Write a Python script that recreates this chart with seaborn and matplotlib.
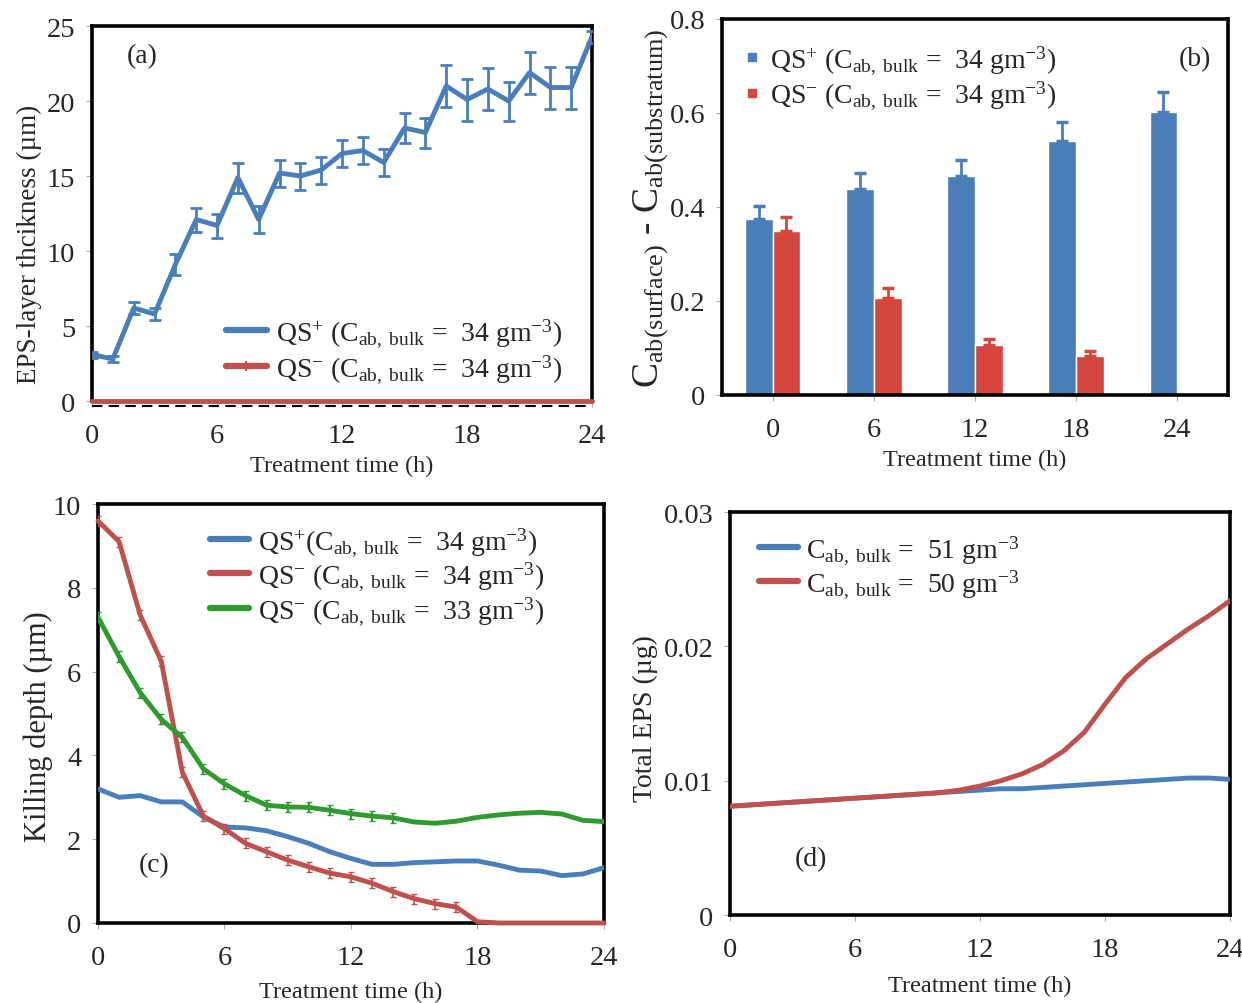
import numpy as np
import pandas as pd
import matplotlib
matplotlib.use("Agg")
import matplotlib.pyplot as plt
import seaborn as sns
from matplotlib.lines import Line2D

# ---------------- data ----------------
hours = list(range(25))

# (a) EPS-layer thickness
a_qs_plus = [3.1, 2.8, 6.2, 5.8, 9.1, 12.1, 11.7, 14.9, 12.1, 15.2, 15.0, 15.4, 16.5, 16.7,
             15.9, 18.2, 17.9, 21.0, 20.1, 20.8, 20.0, 21.9, 20.9, 20.9, 24.3]
a_qs_plus_err = [0.2, 0.2, 0.4, 0.4, 0.7, 0.8, 0.8, 1.0, 0.9, 0.9, 0.9, 0.9, 0.9, 0.9,
                 0.9, 1.0, 1.0, 1.4, 1.4, 1.4, 1.3, 1.4, 1.4, 1.4, 0.4]
a_qs_minus = [0.0] * 25

# (b) surface minus substratum concentration
b_times = ["0", "6", "12", "18", "24"]
b_qs_plus = [0.375, 0.438, 0.465, 0.540, 0.602]
b_qs_plus_err = [0.027, 0.034, 0.035, 0.040, 0.043]
b_qs_minus = [0.348, 0.207, 0.106, 0.083, 0.0]
b_qs_minus_err = [0.030, 0.020, 0.013, 0.011, 0.0]

# (c) killing depth
c_qs_plus_34 = [3.2, 3.0, 3.04, 2.89, 2.89, 2.53, 2.29, 2.27, 2.2, 2.06, 1.9, 1.7, 1.54,
                1.4, 1.4, 1.44, 1.46, 1.48, 1.48, 1.38, 1.26, 1.24, 1.13, 1.17, 1.32]
c_qs_minus_34 = [9.6, 9.1, 7.35, 6.25, 3.6, 2.55, 2.25, 1.9, 1.7, 1.5, 1.34, 1.19, 1.1,
                 0.95, 0.75, 0.58, 0.46, 0.38, 0.03, 0.0, 0.0, 0.0, 0.0, 0.0, 0.0]
c_qs_minus_33 = [7.3, 6.36, 5.5, 4.86, 4.43, 3.68, 3.32, 3.04, 2.81, 2.77, 2.76, 2.69, 2.61,
                 2.55, 2.51, 2.41, 2.38, 2.43, 2.52, 2.58, 2.62, 2.64, 2.6, 2.45, 2.42]

# (d) total EPS
d_c51 = [0.0081, 0.0082, 0.0083, 0.0084, 0.0085, 0.0086, 0.0087, 0.0088, 0.0089, 0.0090,
         0.0091, 0.0092, 0.0093, 0.0094, 0.0094, 0.0095, 0.0096, 0.0097, 0.0098, 0.0099,
         0.0100, 0.0101, 0.0102, 0.0102, 0.0101]
d_c50 = [0.0081, 0.0082, 0.0083, 0.0084, 0.0085, 0.0086, 0.0087, 0.0088, 0.0089, 0.0090,
         0.0091, 0.0093, 0.0096, 0.0100, 0.0105, 0.0112, 0.0122, 0.0136, 0.0157, 0.0177,
         0.0191, 0.0202, 0.0213, 0.0223, 0.0234]

# labels
lab_plus = r"QS$^{+}$ (C$_{\mathrm{ab,\ bulk}}$ =  34 gm$^{-3}$)"
lab_minus = r"QS$^{-}$ (C$_{\mathrm{ab,\ bulk}}$ =  34 gm$^{-3}$)"
lab_c1 = r"QS$^{+}$(C$_{\mathrm{ab,\ bulk}}$ =  34 gm$^{-3}$)"
lab_c2 = r"QS$^{-}$ (C$_{\mathrm{ab,\ bulk}}$ =  34 gm$^{-3}$)"
lab_c3 = r"QS$^{-}$ (C$_{\mathrm{ab,\ bulk}}$ =  33 gm$^{-3}$)"
lab_d1 = r"C$_{\mathrm{ab,\ bulk}}$ =  51 gm$^{-3}$"
lab_d2 = r"C$_{\mathrm{ab,\ bulk}}$ =  50 gm$^{-3}$"

BLUE = "#4a7ebb"
RED = "#c0504d"
BAR_RED = "#d5473e"
GREEN = "#2f9a2f"

# ---------------- style ----------------
sns.set_theme(style="white")
plt.rcParams["font.family"] = ["Liberation Serif", "DejaVu Serif"]
plt.rcParams["mathtext.fontset"] = "custom"
plt.rcParams["mathtext.rm"] = "Liberation Serif"
plt.rcParams["mathtext.it"] = "Liberation Serif:italic"
plt.rcParams["mathtext.bf"] = "Liberation Serif:bold"

TICK_FS = 20.5
LAB_FS = 17.5
LEG_FS = 20

fig = plt.figure(figsize=(12.42, 10.04), dpi=100)
axA = fig.add_axes([0.0741, 0.5996, 0.4026, 0.3735])
axB = fig.add_axes([0.5813, 0.6056, 0.4074, 0.3745])
axC = fig.add_axes([0.0789, 0.0797, 0.4074, 0.4173])
axD = fig.add_axes([0.5878, 0.0876, 0.4026, 0.4014])


def frame(ax):
    for s in ax.spines.values():
        s.set_visible(True)
        s.set_color("black")
        s.set_linewidth(2.6)
    ax.tick_params(axis="both", which="major", labelsize=TICK_FS, direction="out",
                   length=4, width=0.8, color="#aaaaaa")
    ax.tick_params(axis="x", bottom=True, pad=12)
    ax.tick_params(axis="y", left=True, pad=8)


# ---------------- (a) ----------------
dfa = pd.DataFrame({"t": hours, "plus": a_qs_plus, "minus": a_qs_minus})
axA.axhline(-0.3, color="black", lw=1.5, ls=(0, (5, 3)), zorder=1, clip_on=False)
sns.lineplot(data=dfa, x="t", y="minus", ax=axA, color=RED, lw=3.5, zorder=3, clip_on=False)
sns.lineplot(data=dfa, x="t", y="plus", ax=axA, color=BLUE, lw=3.5, zorder=4)
axA.errorbar(dfa["t"], dfa["plus"], yerr=a_qs_plus_err, fmt="none", ecolor=BLUE,
             elinewidth=2, capsize=4, capthick=2, zorder=4)
axA.set_xlim(0, 24)
axA.set_ylim(0, 25)
axA.set_xticks([0, 6, 12, 18, 24])
axA.set_yticks([0, 5, 10, 15, 20, 25])
frame(axA)
axA.spines["bottom"].set_visible(False)
axA.set_xlabel("Treatment time (h)", fontsize=LAB_FS, labelpad=5)
axA.set_ylabel("EPS-layer thcikness (\u00b5m)", fontsize=19.5)
axA.yaxis.set_label_coords(-0.1, 0.42)
axA.text(0.07, 0.92, "(a)", transform=axA.transAxes, fontsize=LEG_FS, ha="left", va="center")
hA = [Line2D([], [], color=BLUE, lw=4.5),
      Line2D([], [], color=RED, lw=4.5, marker="|", ms=7, mew=1.5)]
axA.legend(hA, [lab_plus, lab_minus], loc="upper left", bbox_to_anchor=(0.245, 0.255),
           frameon=False, fontsize=LEG_FS, handlelength=1.5, handletextpad=0.3,
           labelspacing=0.1, borderaxespad=0)

# ---------------- (b) ----------------
dfb = pd.DataFrame({
    "time": b_times * 2,
    "val": b_qs_plus + b_qs_minus,
    "err": b_qs_plus_err + b_qs_minus_err,
    "grp": [lab_plus] * 5 + [lab_minus] * 5,
})
sns.barplot(data=dfb, x="time", y="val", hue="grp", ax=axB, palette=[BLUE, BAR_RED],
            width=0.55, errorbar=None, legend=False, saturation=1, zorder=2)
for patch, v, e, c in zip(axB.patches, dfb["val"], dfb["err"],
                          [BLUE] * 5 + [BAR_RED] * 5):
    if e > 0:
        xc = patch.get_x() + patch.get_width() / 2
        axB.errorbar([xc], [v], yerr=[[0], [e]], fmt="none", ecolor=c,
                     elinewidth=2, capsize=4, capthick=2.5, zorder=3)
axB.set_ylim(0, 0.8)
axB.set_xlim(-0.5, 4.5)
axB.set_yticks([0, 0.2, 0.4, 0.6, 0.8])
axB.set_yticklabels(["0", "0.2", "0.4", "0.6", "0.8"])
frame(axB)
axB.tick_params(axis="x", pad=12)
axB.set_xlabel("Treatment time (h)", fontsize=LAB_FS, labelpad=5)
axB.set_ylabel(r"C$_{\mathrm{ab(surface)}}$ - C$_{\mathrm{ab(substratum)}}$", fontsize=27,
               labelpad=0)
axB.text(0.935, 0.895, "(b)", transform=axB.transAxes, fontsize=LEG_FS, ha="center", va="center")
hB = [Line2D([], [], color=BLUE, marker="s", ls="none", ms=6),
      Line2D([], [], color=BAR_RED, marker="s", ls="none", ms=6)]
axB.legend(hB, [lab_plus, lab_minus], loc="upper left", bbox_to_anchor=(0.02, 0.965),
           frameon=False, fontsize=LEG_FS, handlelength=0.6, handletextpad=0.35,
           labelspacing=0.1, borderaxespad=0)

# ---------------- (c) ----------------
dfc = pd.DataFrame({"t": hours, "p34": c_qs_plus_34, "m34": c_qs_minus_34, "m33": c_qs_minus_33})
sns.lineplot(data=dfc, x="t", y="p34", ax=axC, color=BLUE, lw=3.5, zorder=3)
sns.lineplot(data=dfc, x="t", y="m34", ax=axC, color=RED, lw=3.5, zorder=4, clip_on=False)
sns.lineplot(data=dfc, x="t", y="m33", ax=axC, color=GREEN, lw=3.5, zorder=5)
mask_r = dfc["t"] <= 17
axC.errorbar(dfc["t"][mask_r], dfc["m34"][mask_r], yerr=0.12, fmt="none", ecolor=RED,
             elinewidth=1.2, capsize=2, zorder=4)
mask_g = dfc["t"] <= 14
axC.errorbar(dfc["t"][mask_g], dfc["m33"][mask_g], yerr=0.12, fmt="none", ecolor=GREEN,
             elinewidth=1.5, capsize=2.5, zorder=5)
axC.set_xlim(0, 24)
axC.set_ylim(0, 10)
axC.set_xticks([0, 6, 12, 18, 24])
axC.set_yticks([0, 2, 4, 6, 8, 10])
frame(axC)
axC.set_xlabel("Treatment time (h)", fontsize=LAB_FS, labelpad=8)
axC.set_ylabel("Killing depth (\u00b5m)", fontsize=22)
axC.yaxis.set_label_coords(-0.088, 0.47)
axC.text(0.08, 0.14, "(c)", transform=axC.transAxes, fontsize=LEG_FS, ha="left", va="center")
hC = [Line2D([], [], color=BLUE, lw=4.5), Line2D([], [], color=RED, lw=4.5),
      Line2D([], [], color=GREEN, lw=4.5)]
axC.legend(hC, [lab_c1, lab_c2, lab_c3], loc="upper left", bbox_to_anchor=(0.2, 0.975),
           frameon=False, fontsize=LEG_FS, handlelength=1.4, handletextpad=0.3,
           labelspacing=0.05, borderaxespad=0)

# ---------------- (d) ----------------
dfd = pd.DataFrame({"t": hours, "c51": d_c51, "c50": d_c50})
sns.lineplot(data=dfd, x="t", y="c51", ax=axD, color=BLUE, lw=3.5, zorder=3)
sns.lineplot(data=dfd, x="t", y="c50", ax=axD, color=RED, lw=3.5, zorder=4)
axD.set_xlim(0, 24)
axD.set_ylim(0, 0.03)
axD.set_xticks([0, 6, 12, 18, 24])
axD.set_yticks([0, 0.01, 0.02, 0.03])
axD.set_yticklabels(["0", "0.01", "0.02", "0.03"])
frame(axD)
axD.set_xlabel("Treatment time (h)", fontsize=LAB_FS, labelpad=9)
axD.set_ylabel("Total EPS (\u00b5g)", fontsize=20)
axD.yaxis.set_label_coords(-0.145, 0.49)
axD.text(0.13, 0.14, "(d)", transform=axD.transAxes, fontsize=LEG_FS, ha="left", va="center")
hD = [Line2D([], [], color=BLUE, lw=4.5), Line2D([], [], color=RED, lw=4.5)]
axD.legend(hD, [lab_d1, lab_d2], loc="upper left", bbox_to_anchor=(0.035, 0.975),
           frameon=False, fontsize=LEG_FS, handlelength=1.4, handletextpad=0.3,
           labelspacing=0.05, borderaxespad=0)

fig.savefig("out.png", dpi=100, facecolor="white")
